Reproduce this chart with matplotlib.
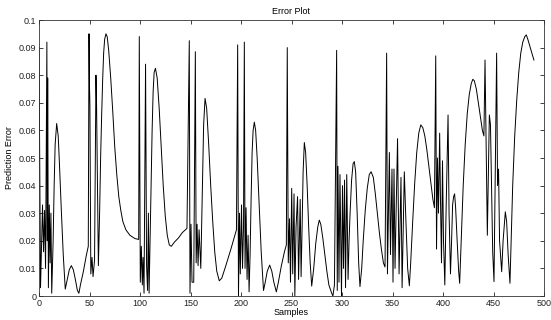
import matplotlib
matplotlib.use("Agg")
import matplotlib.pyplot as plt

plt.rcParams['font.family'] = ['Liberation Sans', 'DejaVu Sans']

# Sample index (x) and prediction error (y)
samples = [
    0, 1.5, 3.5, 4.5, 5.5, 6.5, 7.8, 8.2, 8.6, 9.3, 10.2, 11.0, 11.8, 12.6,
    14, 15, 16, 17.5, 19, 20, 22, 24, 26, 28, 30, 32, 34, 36, 38, 39.5, 41, 44, 47,
    48.8, 49.5, 50, 50.4, 51.3, 52.5, 53.5, 55, 56.4, 57, 58.8,
    60, 61, 62, 63, 64, 65, 66.3, 67.5, 69, 71, 73, 75, 77, 79, 81, 83, 86, 90, 95,
    98.7, 99.3, 100.3, 101.3, 102.3, 103, 104, 105.5, 106.5, 107.5, 108.3, 109,
    110, 111, 112, 113, 114, 115.3, 117, 119, 121, 123, 125, 127, 129, 131, 134,
    138, 142, 146.5, 148.8, 149.5, 150.5, 151.5, 153.2, 154.8, 155.6, 156.5,
    157.5, 158.5, 160.2, 161, 162, 163, 164.4, 166, 168, 170, 172, 174, 176,
    178.5, 181, 185, 190, 195.5, 196.7, 197.5, 198.5, 199.3, 200.5, 201.5,
    202.5, 203.3, 204, 205, 206, 207, 208, 209, 210, 211, 212, 213.2, 214.5,
    216, 218, 220, 222.3, 224, 226, 228.4, 230.5, 232.5, 235, 237, 240, 243,
    244.9, 245.8, 246.8, 248, 249, 250.2, 251.2, 252.5, 253.3, 254.5, 256, 257,
    258.6, 259.5, 260.5, 261.5, 262.7, 264, 265.5, 267, 268.5, 270, 272, 274,
    276, 277.5, 279, 281, 283, 285, 287, 289.8, 291, 292.5, 294.7, 295.3, 296,
    297, 298, 299.5, 300.5, 301.5, 302.5, 303.5, 304.7, 306, 307, 308, 309.5,
    311, 312.2, 313.5, 315, 316.5, 317.8, 319.5, 321, 323, 325, 327, 328.8, 331,
    333, 335, 337, 339, 341, 342.6, 344.2, 345, 346.9, 348, 349.5, 350.5, 351.5,
    352.5, 355, 356.5, 358.4, 359.5, 361.7, 363, 365, 366.7, 368, 370, 372, 374,
    376, 378, 380, 382, 384, 386, 388, 390, 391.5, 392.8, 393.6, 394.5, 395.5,
    396.7, 397.5, 398.5, 399.5, 400.5, 401.8, 403, 405, 406, 407.4, 408.5,
    409.5, 410.5, 411.5, 412.5, 414, 415.5, 416.5, 418, 420, 422, 424, 426, 428,
    429.5, 431, 433, 435, 437, 439, 440.5, 441.6, 443.9, 445.9, 447, 449.2,
    450.5, 453.1, 454, 455, 456, 458.1, 459.5, 461.7, 463, 464.5, 466.3, 467.5,
    469, 471, 473, 475, 477, 479, 481, 482.5, 484, 486, 488, 490,
]
error = [
    0.090, 0.003, 0.033, 0.016, 0.031, 0.010, 0.092, 0.020, 0.079, 0.003, 0.033, 0.012, 0.030, 0.001,
    0.020, 0.040, 0.055, 0.0625, 0.058, 0.050, 0.032, 0.015, 0.0025, 0.006, 0.0095, 0.011, 0.0095, 0.006, 0.002, 0.001, 0.004, 0.009, 0.015,
    0.018, 0.095, 0.076, 0.069, 0.008, 0.014, 0.007, 0.013, 0.080, 0.069, 0.011,
    0.030, 0.050, 0.065, 0.078, 0.088, 0.093, 0.095, 0.094, 0.089, 0.079, 0.067, 0.054, 0.044, 0.036, 0.031, 0.027, 0.024, 0.022, 0.0208,
    0.0205, 0.094, 0.005, 0.018, 0.004, 0.014, 0.001, 0.084, 0.011, 0.002, 0.030, 0.001,
    0.020, 0.040, 0.060, 0.074, 0.081, 0.0825, 0.079, 0.068, 0.054, 0.040, 0.029, 0.022, 0.0185, 0.018, 0.0195,
    0.021, 0.023, 0.0245, 0.0925, 0.001, 0.026, 0.005, 0.005, 0.0885, 0.012, 0.026,
    0.011, 0.024, 0.010, 0.025, 0.045, 0.062, 0.0716, 0.068, 0.055, 0.040, 0.027, 0.016, 0.009,
    0.0055, 0.0065, 0.011, 0.017, 0.024, 0.091, 0.0, 0.030, 0.008, 0.033, 0.010,
    0.025, 0.092, 0.010, 0.032, 0.006, 0.022, 0.0015, 0.015, 0.035, 0.052, 0.060, 0.063, 0.060,
    0.050, 0.033, 0.016, 0.002, 0.005, 0.009, 0.0112, 0.009, 0.005, 0.0015, 0.005, 0.011, 0.016,
    0.0185, 0.090, 0.012, 0.028, 0.005, 0.039, 0.008, 0.037, 0.0, 0.025, 0.036, 0.006,
    0.035, 0.007, 0.025, 0.045, 0.0556, 0.052, 0.040, 0.025, 0.012, 0.0036, 0.010, 0.019,
    0.025, 0.0275, 0.026, 0.021, 0.015, 0.009, 0.004, 0.001, 0.0, 0.004, 0.089, 0.002, 0.047,
    0.005, 0.044, 0.0, 0.040, 0.010, 0.042, 0.003, 0.044, 0.006, 0.020, 0.030, 0.042,
    0.048, 0.0487, 0.045, 0.030, 0.012, 0.0034, 0.010, 0.020, 0.031, 0.039, 0.044, 0.045, 0.043,
    0.037, 0.030, 0.023, 0.017, 0.012, 0.0105, 0.088, 0.008, 0.052, 0.015, 0.046, 0.005, 0.046,
    0.010, 0.057, 0.008, 0.043, 0.003, 0.045, 0.030, 0.010, 0.0037, 0.012, 0.027, 0.041, 0.052,
    0.059, 0.062, 0.061, 0.058, 0.053, 0.047, 0.041, 0.035, 0.032, 0.087, 0.017, 0.050, 0.030,
    0.059, 0.035, 0.012, 0.049, 0.020, 0.004, 0.030, 0.0656, 0.030, 0.008, 0.020,
    0.033, 0.036, 0.037, 0.032, 0.020, 0.009, 0.0046, 0.020, 0.040, 0.055, 0.066, 0.073, 0.077,
    0.0785, 0.078, 0.075, 0.070, 0.065, 0.060, 0.058, 0.0855, 0.022, 0.0656, 0.062, 0.016,
    0.0052, 0.088, 0.040, 0.046, 0.020, 0.0088, 0.020, 0.0305, 0.027, 0.015, 0.0046, 0.020,
    0.040, 0.058, 0.071, 0.081, 0.088, 0.092, 0.094, 0.0946, 0.093, 0.0905, 0.088, 0.0855,
]

x_ticks = [0, 50, 100, 150, 200, 250, 300, 350, 400, 450, 500]
y_ticks = [0, 0.01, 0.02, 0.03, 0.04, 0.05, 0.06, 0.07, 0.08, 0.09, 0.1]
y_tick_labels = ['0', '0.01', '0.02', '0.03', '0.04', '0.05', '0.06', '0.07', '0.08', '0.09', '0.1']

fig = plt.figure(figsize=(5.51, 3.20), dpi=100)
ax = fig.add_axes([39/551, 1 - 296/320, (544 - 39)/551, (296 - 20)/320])
ax.plot(samples, error, color='black', linewidth=0.7)

ax.set_xlim(0, 500)
ax.set_ylim(0, 0.1)
ax.set_xticks(x_ticks)
ax.set_xticklabels([str(t) for t in x_ticks])
ax.set_yticks(y_ticks)
ax.set_yticklabels(y_tick_labels)
ax.tick_params(direction='in', length=3, width=0.6, labelsize=6.5, pad=2,
               top=True, right=True, colors='#222222')
for sp in ax.spines.values():
    sp.set_linewidth(0.6)
    sp.set_color('#333333')

ax.set_title('Error Plot', fontsize=6.5, pad=4)
ax.set_xlabel('Samples', fontsize=6.5, labelpad=0)
ax.set_ylabel('Prediction Error', fontsize=6.5, labelpad=3)

fig.savefig('out.png', dpi=100)
